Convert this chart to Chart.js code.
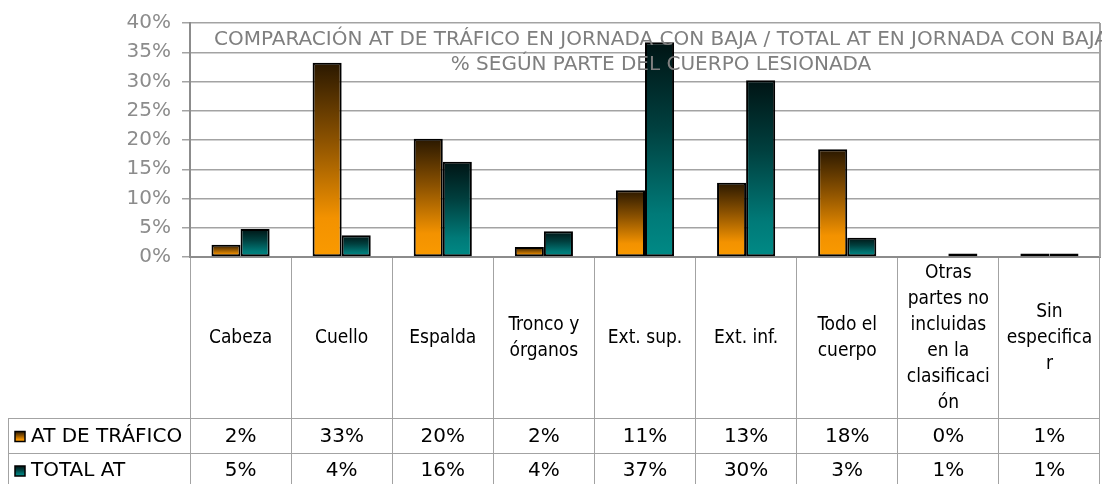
<!DOCTYPE html>
<html>
<head>
<meta charset="utf-8">
<title>AT de tráfico por parte del cuerpo</title>
<script src="https://cdn.jsdelivr.net/npm/chart.js@4.4.1/dist/chart.umd.min.js"></script>
<style>
  html, body { margin: 0; padding: 0; background: #fff; }
  #wrap { width: 1102px; height: 484px; }
</style>
</head>
<body>
<div id="wrap"><canvas id="chart"></canvas></div>
<script>
// categories (already wrapped the way the data table shows them)
const categories = [
  ['Cabeza'], ['Cuello'], ['Espalda'], ['Tronco y', 'órganos'], ['Ext. sup.'],
  ['Ext. inf.'], ['Todo el', 'cuerpo'],
  ['Otras', 'partes no', 'incluidas', 'en la', 'clasificaci', 'ón'],
  ['Sin', 'especifica', 'r']
];
const seriesNames = ['AT DE TRÁFICO', 'TOTAL AT'];
// values in %
const traficoValues = [2.1, 33.2, 20.2, 1.7, 11.4, 12.7, 18.4, 0, 0.6];
const totalValues = [4.8, 3.7, 16.3, 4.4, 36.7, 30.2, 3.3, 0.6, 0.6];
const yTicks = [0, 5, 10, 15, 20, 25, 30, 35, 40];
const titleLines = [
  'COMPARACIÓN AT DE TRÁFICO EN JORNADA CON BAJA / TOTAL AT EN JORNADA CON BAJA',
  '% SEGÚN PARTE DEL CUERPO LESIONADA'
];

const FONT = "'DejaVu Sans', sans-serif";
const FONT_NARROW = "'DejaVu Sans Condensed', 'DejaVu Sans', sans-serif";
const GRID = '#a3a3a3';

// dark top -> colour bottom, per bar
const palettes = [
  ['#2a1800', '#8c5200', '#f39200', '#fa9a00'],
  ['#001414', '#00403f', '#007a78', '#008a86']
];

function barGradient(ctx, pal, top, bottom) {
  const g = ctx.createLinearGradient(0, top, 0, bottom);
  g.addColorStop(0, pal[0]);
  g.addColorStop(0.4, pal[1]);
  g.addColorStop(0.8, pal[2]);
  g.addColorStop(1, pal[3]);
  return g;
}

function scriptedFill(idx) {
  return function(c) {
    const chart = c.chart;
    if (!chart.chartArea || c.type !== 'data') return palettes[idx][2];
    const ys = chart.scales.y;
    const top = ys.getPixelForValue(c.parsed.y);
    const base = ys.getPixelForValue(0);
    if (base - top < 1) return palettes[idx][2];
    return barGradient(chart.ctx, palettes[idx], top, base);
  };
}

// title, frame and the data table under the plot
const tablePlugin = {
  id: 'dataTable',
  afterDraw(chart) {
    const { ctx, chartArea: a, scales: { x } } = chart;
    const rowTop = a.bottom + 161;
    const rowMid = a.bottom + 196;
    const bottom = chart.height;
    const leftCol = 8;

    ctx.save();
    // right edge of plot frame
    ctx.strokeStyle = GRID;
    ctx.lineWidth = 2;
    ctx.beginPath();
    ctx.moveTo(a.right, a.top);
    ctx.lineTo(a.right, a.bottom);
    ctx.stroke();

    // table rules
    ctx.lineWidth = 1;
    ctx.beginPath();
    [rowTop, rowMid].forEach(function(yy) {
      ctx.moveTo(leftCol, yy + 0.5);
      ctx.lineTo(a.right, yy + 0.5);
    });
    ctx.moveTo(leftCol + 0.5, rowTop);
    ctx.lineTo(leftCol + 0.5, bottom);
    ctx.stroke();

    // title
    ctx.fillStyle = '#7f7f7f';
    ctx.font = '20px ' + FONT;
    ctx.textAlign = 'center';
    ctx.textBaseline = 'alphabetic';
    const tx = (a.left + a.right) / 2 + 16;
    ctx.fillText(titleLines[0], tx, a.top + 22);
    ctx.fillText(titleLines[1], tx, a.top + 47);

    // category labels
    ctx.fillStyle = '#000';
    ctx.font = '19px ' + FONT_NARROW;
    ctx.textBaseline = 'middle';
    const midY = (a.bottom + rowTop) / 2 + 1;
    categories.forEach(function(lines, i) {
      const cx = x.getPixelForValue(i);
      lines.forEach(function(line, j) {
        ctx.fillText(line, cx, midY + (j - (lines.length - 1) / 2) * 26);
      });
    });

    // values rows
    ctx.font = '20px ' + FONT;
    const rows = [traficoValues, totalValues];
    const rowY = [(rowTop + rowMid) / 2 + 1, rowMid + 18];
    rows.forEach(function(vals, r) {
      ctx.fillStyle = '#000';
      vals.forEach(function(v, i) {
        ctx.textAlign = 'center';
        ctx.fillText(Math.round(v) + '%', x.getPixelForValue(i), rowY[r]);
      });
      // legend key
      const by = rowY[r] - 5;
      ctx.fillStyle = barGradient(ctx, palettes[r], by, by + 10);
      ctx.fillRect(15, by, 10, 10);
      ctx.strokeStyle = '#000';
      ctx.lineWidth = 1.5;
      ctx.strokeRect(15, by, 10, 10);
      ctx.fillStyle = '#000';
      ctx.textAlign = 'left';
      ctx.fillText(seriesNames[r], 31, rowY[r]);
    });
    ctx.restore();
  }
};

new Chart(document.getElementById('chart'), {
  type: 'bar',
  data: {
    labels: categories,
    datasets: [
      {
        label: seriesNames[0],
        data: traficoValues,
        backgroundColor: scriptedFill(0),
        borderColor: '#000',
        borderWidth: 2,
        borderSkipped: false
      },
      {
        label: seriesNames[1],
        data: totalValues,
        backgroundColor: scriptedFill(1),
        borderColor: '#000',
        borderWidth: 2,
        borderSkipped: false
      }
    ]
  },
  options: {
    responsive: true,
    maintainAspectRatio: false,
    animation: false,
    categoryPercentage: 0.575,
    barPercentage: 1.0,
    layout: { padding: { top: 20, right: 2, left: 0, bottom: 0 } },
    plugins: {
      legend: { display: false },
      title: { display: false },
      tooltip: { enabled: false }
    },
    scales: {
      x: {
        grid: {
          display: true,
          offset: true,
          drawOnChartArea: false,
          drawTicks: true,
          tickLength: 227,
          color: GRID,
          lineWidth: 1
        },
        border: { display: true, color: '#8c8c8c', width: 2 },
        ticks: { display: false },
        afterFit: function(scale) { scale.height = 227; }
      },
      y: {
        min: 0,
        max: 40,
        afterBuildTicks: function(scale) {
          scale.ticks = yTicks.map(function(v) { return { value: v }; });
        },
        grid: { color: GRID, lineWidth: 1.5, tickLength: 8 },
        border: { display: true, color: '#8c8c8c', width: 2 },
        ticks: {
          color: '#8c8c8c',
          padding: 11,
          font: { family: FONT, size: 20 },
          callback: function(v) { return v + '%'; }
        },
        afterFit: function(scale) { scale.width = 190; }
      }
    }
  },
  plugins: [tablePlugin]
});
</script>
</body>
</html>
